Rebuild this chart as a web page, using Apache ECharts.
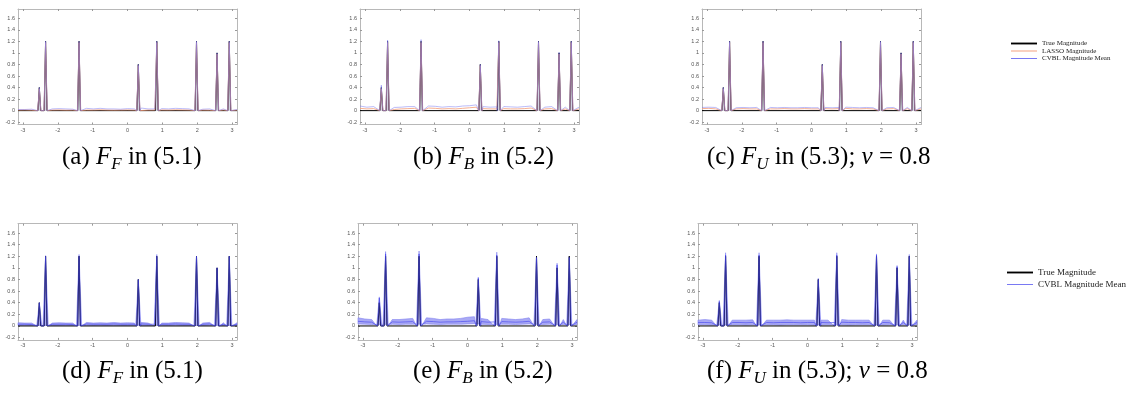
<!DOCTYPE html>
<html>
<head>
<meta charset="utf-8">
<script src="https://cdn.jsdelivr.net/npm/echarts@6/dist/echarts.min.js"></script>
<style>
html, body { margin: 0; padding: 0; background: #fff; }
#main { width: 1140px; height: 400px; }
</style>
</head>
<body>
<div id="main"></div>
<script>
// true signal: spike locations and magnitudes
var spikeX = [-2.53, -2.35, -1.39, 0.31, 0.84, 1.98, 2.57, 2.92];
var trueMag = [0.4, 1.2, 1.2, 0.8, 1.2, 1.2, 1.0, 1.2];
var xTicks = [-3, -2, -1, 0, 1, 2, 3];
var yTicks = [-0.2, 0, 0.2, 0.4, 0.6, 0.8, 1, 1.2, 1.4, 1.6];

// off-spike levels, read at 33 evenly spaced points on [-pi, pi]
var aCvbl  = [0.02, 0.02, 0.025, 0.03, 0.045, 0.03, 0.035, 0.03, 0.025, 0.035, 0.04, 0.03, 0.04, 0.03, 0.03, 0.025, 0.035, 0.03, 0.045, 0.03, 0.03, 0.035, 0.03, 0.04, 0.035, 0.03, 0.04, 0.025, 0.03, 0.03, 0.03, 0.025, 0.02];
var aLasso = [0.01, 0.012, 0.008, 0.01, 0.015, 0.01, 0.012, 0.008, 0.01, 0.012, 0.01, 0.01, 0.014, 0.01, 0.008, 0.01, 0.012, 0.01, 0.015, 0.01, 0.01, 0.012, 0.01, 0.014, 0.012, 0.01, 0.012, 0.01, 0.008, 0.01, 0.012, 0.01, 0.01];
var bCvbl  = [0.08, 0.06, 0.07, 0.065, 0.06, 0.055, 0.06, 0.07, 0.07, 0.065, 0.08, 0.075, 0.06, 0.07, 0.065, 0.08, 0.085, 0.1, 0.07, 0.06, 0.065, 0.07, 0.065, 0.06, 0.07, 0.08, 0.065, 0.06, 0.07, 0.065, 0.06, 0.07, 0.06];
var bLasso = [0.04, 0.03, 0.035, 0.03, 0.025, 0.02, 0.03, 0.035, 0.04, 0.03, 0.045, 0.04, 0.03, 0.035, 0.03, 0.04, 0.05, 0.06, 0.035, 0.03, 0.03, 0.035, 0.03, 0.03, 0.035, 0.045, 0.03, 0.03, 0.035, 0.03, 0.03, 0.035, 0.03];
var cCvbl  = [0.055, 0.06, 0.055, 0.05, 0.055, 0.05, 0.055, 0.05, 0.055, 0.06, 0.055, 0.05, 0.055, 0.05, 0.05, 0.055, 0.05, 0.05, 0.055, 0.05, 0.055, 0.06, 0.055, 0.05, 0.055, 0.05, 0.055, 0.05, 0.055, 0.05, 0.055, 0.05, 0.055];
var cLasso = [0.035, 0.04, 0.03, 0.035, 0.03, 0.03, 0.035, 0.03, 0.03, 0.035, 0.03, 0.03, 0.035, 0.03, 0.03, 0.035, 0.03, 0.03, 0.035, 0.03, 0.035, 0.04, 0.03, 0.03, 0.035, 0.03, 0.035, 0.03, 0.035, 0.03, 0.035, 0.03, 0.03];

var dCvbl = [0.03, 0.03, 0.025, 0.03, 0.035, 0.03, 0.03, 0.03, 0.025, 0.03, 0.035, 0.03, 0.03, 0.03, 0.035, 0.03, 0.03, 0.03, 0.035, 0.03, 0.03, 0.03, 0.03, 0.035, 0.03, 0.03, 0.03, 0.03, 0.035, 0.03, 0.03, 0.03, 0.03];
var dHi   = [0.055, 0.05, 0.05, 0.055, 0.06, 0.05, 0.055, 0.05, 0.05, 0.055, 0.06, 0.05, 0.055, 0.05, 0.06, 0.05, 0.055, 0.05, 0.06, 0.05, 0.055, 0.05, 0.05, 0.06, 0.055, 0.05, 0.055, 0.05, 0.06, 0.05, 0.055, 0.05, 0.055];
var dLo   = [0.01, 0.012, 0.01, 0.01, 0.014, 0.01, 0.01, 0.012, 0.01, 0.01, 0.014, 0.01, 0.012, 0.01, 0.012, 0.01, 0.01, 0.012, 0.014, 0.01, 0.01, 0.012, 0.01, 0.014, 0.01, 0.01, 0.012, 0.01, 0.014, 0.01, 0.01, 0.012, 0.01];
var eCvbl = [0.08, 0.07, 0.065, 0.07, 0.075, 0.07, 0.065, 0.07, 0.075, 0.07, 0.08, 0.075, 0.065, 0.07, 0.07, 0.075, 0.08, 0.09, 0.075, 0.065, 0.07, 0.075, 0.07, 0.065, 0.07, 0.08, 0.07, 0.065, 0.07, 0.07, 0.065, 0.07, 0.065];
var eHi   = [0.14, 0.12, 0.11, 0.12, 0.13, 0.11, 0.11, 0.12, 0.13, 0.12, 0.14, 0.13, 0.11, 0.12, 0.12, 0.13, 0.15, 0.16, 0.13, 0.11, 0.12, 0.13, 0.12, 0.11, 0.12, 0.14, 0.12, 0.11, 0.12, 0.12, 0.11, 0.12, 0.11];
var eLo   = [0.035, 0.03, 0.025, 0.03, 0.03, 0.03, 0.025, 0.03, 0.03, 0.03, 0.035, 0.03, 0.025, 0.03, 0.03, 0.03, 0.035, 0.04, 0.03, 0.025, 0.03, 0.03, 0.03, 0.025, 0.03, 0.035, 0.03, 0.025, 0.03, 0.03, 0.025, 0.03, 0.025];
var fCvbl = [0.06, 0.06, 0.055, 0.06, 0.065, 0.06, 0.06, 0.055, 0.06, 0.06, 0.06, 0.055, 0.06, 0.06, 0.06, 0.055, 0.06, 0.06, 0.06, 0.055, 0.06, 0.065, 0.06, 0.06, 0.055, 0.06, 0.06, 0.06, 0.055, 0.06, 0.06, 0.06, 0.06];
var fHi   = [0.1, 0.11, 0.1, 0.1, 0.11, 0.1, 0.1, 0.1, 0.105, 0.1, 0.1, 0.1, 0.1, 0.105, 0.1, 0.1, 0.1, 0.1, 0.1, 0.1, 0.105, 0.11, 0.1, 0.1, 0.1, 0.1, 0.105, 0.1, 0.1, 0.1, 0.1, 0.105, 0.1];
var fLo   = [0.02, 0.02, 0.015, 0.02, 0.02, 0.02, 0.02, 0.015, 0.02, 0.02, 0.02, 0.02, 0.015, 0.02, 0.02, 0.02, 0.02, 0.015, 0.02, 0.02, 0.02, 0.02, 0.015, 0.02, 0.02, 0.02, 0.02, 0.015, 0.02, 0.02, 0.02, 0.02, 0.02];

// peak heights at the spikes
var aCvblPk = [0.4, 1.2, 1.2, 0.8, 1.2, 1.2, 1.0, 1.2];
var bCvblPk = [0.44, 1.22, 1.23, 0.8, 1.21, 1.2, 1.01, 1.2];
var cCvblPk = [0.4, 1.2, 1.2, 0.8, 1.2, 1.2, 1.0, 1.2];
var lassoPk = [0.38, 1.18, 1.18, 0.78, 1.18, 1.18, 0.98, 1.18];
var dCvblPk = [0.4, 1.2, 1.2, 0.8, 1.2, 1.2, 1.0, 1.2];
var dHiPk   = [0.4, 1.21, 1.23, 0.8, 1.23, 1.2, 1.0, 1.2];
var eCvblPk = [0.48, 1.24, 1.24, 0.82, 1.22, 1.18, 1.05, 1.18];
var eHiPk   = [0.5, 1.28, 1.29, 0.84, 1.27, 1.2, 1.08, 1.2];
var fCvblPk = [0.42, 1.22, 1.22, 0.8, 1.22, 1.22, 1.02, 1.2];
var fHiPk   = [0.44, 1.26, 1.26, 0.82, 1.26, 1.24, 1.04, 1.23];

var panels = [
  { cvbl: aCvbl, cvblPk: aCvblPk, lasso: aLasso, hiPk: aCvblPk, cap: '{n|(a) }{i|F}{s|F}{n| in (}{g|5.1}{n|)}' },
  { cvbl: bCvbl, cvblPk: bCvblPk, lasso: bLasso, hiPk: bCvblPk, cap: '{n|(b) }{i|F}{s|B}{n| in (}{g|5.2}{n|)}' },
  { cvbl: cCvbl, cvblPk: cCvblPk, lasso: cLasso, hiPk: cCvblPk, cap: '{n|(c) }{i|F}{s|U}{n| in (}{g|5.3}{n|); }{i|ν}{n| = 0.8}' },
  { cvbl: dCvbl, cvblPk: dCvblPk, hi: dHi, lo: dLo, hiPk: dHiPk, cap: '{n|(d) }{i|F}{s|F}{n| in (}{g|5.1}{n|)}' },
  { cvbl: eCvbl, cvblPk: eCvblPk, hi: eHi, lo: eLo, hiPk: eHiPk, cap: '{n|(e) }{i|F}{s|B}{n| in (}{g|5.2}{n|)}' },
  { cvbl: fCvbl, cvblPk: fCvblPk, hi: fHi, lo: fLo, hiPk: fHiPk, cap: '{n|(f) }{i|F}{s|U}{n| in (}{g|5.3}{n|); }{i|ν}{n| = 0.8}' }
];

// plot boxes and caption anchors
var boxes = [
  { left: 18, top: 9, width: 219, height: 115.5 },
  { left: 360, top: 9, width: 219, height: 115.5 },
  { left: 702, top: 9, width: 219, height: 115.5 },
  { left: 18, top: 223.7, width: 219, height: 116.2 },
  { left: 358, top: 223.7, width: 219, height: 116.2 },
  { left: 698, top: 223.7, width: 219, height: 116.2 }
];
var capPos = [[62, 157], [413, 157], [707, 157], [62, 371], [413, 371], [707, 371]];

var BLACK = '#000', LASSO = '#f29a76', CVBL = '#6f6ff2';

// samples on the grid (dropping those under a spike) plus the spike triangles
function trace(base, peaks, hw) {
  var pts = [];
  if (base) {
    base.forEach(function (v, i) {
      var x = -Math.PI + i * 2 * Math.PI / (base.length - 1);
      for (var k = 0; k < spikeX.length; k++) {
        if (Math.abs(x - spikeX[k]) <= hw) return;
      }
      pts.push([x, v]);
    });
  } else {
    pts.push([-Math.PI, 0], [Math.PI, 0]);
  }
  if (peaks) {
    spikeX.forEach(function (s, k) {
      pts.push([s - hw, 0], [s, peaks[k]], [s + hw, 0]);
    });
  }
  pts.sort(function (p, q) { return p[0] - q[0]; });
  return pts;
}

var grid = [], xAxis = [], yAxis = [], series = [], graphic = [];
var axisColor = '#b8b8b8';
var lbl = { fontSize: 5.5, color: '#555', fontFamily: 'Liberation Sans' };

panels.forEach(function (p, i) {
  grid.push(boxes[i]);
  ['bottom', 'top'].forEach(function (pos) {
    xAxis.push({
      gridIndex: i, type: 'value', position: pos, min: -Math.PI, max: Math.PI,
      axisLine: { show: true, onZero: false, lineStyle: { color: axisColor, width: 1 } },
      axisTick: { show: true, inside: true, length: 2, customValues: xTicks, lineStyle: { color: '#999' } },
      axisLabel: Object.assign({ show: pos === 'bottom', margin: 3, customValues: xTicks }, lbl),
      splitLine: { show: false }
    });
  });
  ['left', 'right'].forEach(function (pos) {
    yAxis.push({
      gridIndex: i, type: 'value', position: pos, min: -0.24, max: 1.76,
      axisLine: { show: true, onZero: false, lineStyle: { color: axisColor, width: 1 } },
      axisTick: { show: true, inside: true, length: 2, customValues: yTicks, lineStyle: { color: '#999' } },
      axisLabel: Object.assign({ show: pos === 'left', margin: 3, customValues: yTicks }, lbl),
      splitLine: { show: false }
    });
  });

  var bottomRow = !!p.hi;
  var upper = trace(p.hi || null, p.hiPk, bottomRow ? 0.075 : 0.065);
  var lower = trace(p.lo || null, null, 0.075);
  var poly = upper.concat(lower.slice().reverse());
  series.push({
    type: 'custom', xAxisIndex: 2 * i, yAxisIndex: 2 * i, silent: true, z: 1,
    data: [[0, 0]],
    renderItem: function (params, api) {
      return {
        type: 'polygon',
        shape: { points: poly.map(function (q) { return api.coord(q); }) },
        style: bottomRow
          ? { fill: '#a9a9f4', stroke: '#7f7ff0', lineWidth: 0.6 }
          : { fill: '#d2d2e2', stroke: null }
      };
    }
  });
  series.push({
    name: 'True Magnitude', type: 'line', xAxisIndex: 2 * i, yAxisIndex: 2 * i,
    data: trace(null, trueMag, 0.04), symbol: 'none', z: 3,
    itemStyle: { color: BLACK },
    lineStyle: { color: BLACK, width: 1 }
  });
  if (p.lasso) {
    series.push({
      name: 'LASSO Magnitude', type: 'line', xAxisIndex: 2 * i, yAxisIndex: 2 * i,
      data: trace(p.lasso, lassoPk, 0.045), symbol: 'none', z: 4,
      itemStyle: { color: LASSO },
      lineStyle: { color: LASSO, width: 0.8 }
    });
  }
  series.push({
    name: 'CVBL Magnitude Mean', type: 'line', xAxisIndex: 2 * i, yAxisIndex: 2 * i,
    data: trace(p.cvbl, p.cvblPk, 0.045), symbol: 'none', z: 5,
    itemStyle: { color: CVBL },
    lineStyle: { color: bottomRow ? '#4646ee' : CVBL, width: 0.8, opacity: bottomRow ? 0.8 : 0.6 }
  });

  var capFont = 'Liberation Serif';
  graphic.push({
    type: 'text', x: capPos[i][0], y: capPos[i][1],
    style: {
      text: p.cap, verticalAlign: 'middle', align: 'left',
      rich: {
        n: { fontFamily: capFont, fontSize: 25, lineHeight: 33, color: '#111' },
        i: { fontFamily: capFont, fontSize: 25, lineHeight: 33, fontStyle: 'italic', color: '#111' },
        s: { fontFamily: capFont, fontSize: 17, lineHeight: 22, fontStyle: 'italic', verticalAlign: 'bottom', color: '#111' },
        g: { fontFamily: capFont, fontSize: 25, lineHeight: 33, color: '#1d8c1d' }
      }
    }
  });
});

var legText = { fontFamily: 'Liberation Serif', color: '#222' };
var thick = 'path://M0 0H28V2H0Z', thin = 'path://M0 0H28V1H0Z';
var option = {
  animation: false,
  grid: grid, xAxis: xAxis, yAxis: yAxis, series: series, graphic: graphic,
  legend: [
    {
      orient: 'vertical', left: 1011, top: 40, padding: 0, itemWidth: 26, itemHeight: 5, itemGap: 0.5,
      symbolKeepAspect: true,
      textStyle: Object.assign({ fontSize: 7, lineHeight: 5 }, legText),
      data: [
        { name: 'True Magnitude', icon: thick },
        { name: 'LASSO Magnitude', icon: thin },
        { name: 'CVBL Magnitude Mean', icon: thin }
      ]
    },
    {
      orient: 'vertical', left: 1007, top: 268, padding: 0, itemWidth: 26, itemHeight: 8, itemGap: 3,
      symbolKeepAspect: true,
      textStyle: Object.assign({ fontSize: 9, lineHeight: 8 }, legText),
      data: [
        { name: 'True Magnitude', icon: thick },
        { name: 'CVBL Magnitude Mean', icon: thin }
      ]
    }
  ]
};

echarts.init(document.getElementById('main')).setOption(option);
</script>
</body>
</html>
